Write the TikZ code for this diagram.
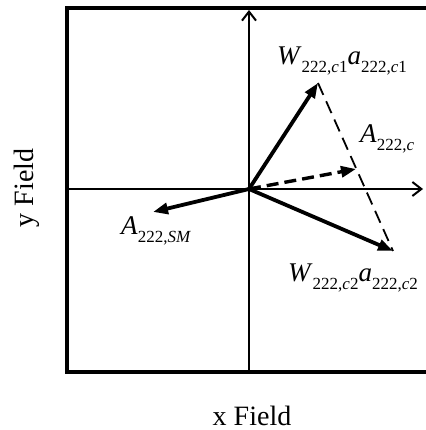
\documentclass[tikz,border=0pt]{standalone}
\usepackage{fontspec}
\setmainfont{Liberation Serif}
\usetikzlibrary{arrows.meta}
\newcommand\lsub[1]{\raisebox{-8pt}{\fontsize{17}{17}\selectfont #1}}
\tikzset{
  % frame and axes
  framebox/.style = { line width=4pt },
  axisline/.style = { line width=2pt, -{Straight Barb[length=9pt, width=14pt, line width=2pt]} },
  % field vectors
  fieldvec/.style = { line width=3.8pt, -{Triangle[length=15pt, width=11pt]} },
  sumvec/.style   = { line width=3.4pt, dash pattern=on 12pt off 6pt,
                      -{Triangle[length=15pt, width=11pt]} },
  helpline/.style = { line width=1.8pt, dash pattern=on 13pt off 7pt },
  veclabel/.style = { font=\fontsize{27}{27}\selectfont, inner sep=0, anchor=base west },
  axislabel/.style= { font=\fontsize{28}{28}\selectfont, inner sep=0, anchor=base }
}
\begin{document}
\begin{tikzpicture}[x=1pt, y=1pt]
  \useasboundingbox (0,0) rectangle (425,430);

  \coordinate (O)    at (249,241);
  \coordinate (xl)   at (67,241);
  \coordinate (xr)   at (423,241);
  \coordinate (ybot) at (249,58);
  \coordinate (ytop) at (249,420);
  \coordinate (c1)   at (318,347);
  \coordinate (c2)   at (393,179);
  \coordinate (ac)   at (356,261);
  \coordinate (sm)   at (153,218);

  \draw[framebox] (432,422) -- (67,422) -- (67,58) -- (432,58);
  \draw[axisline] (xl) -- (xr);
  \draw[axisline] (ybot) -- (ytop);

  \draw[helpline] (c1) -- (c2);
  \draw[fieldvec] (O) -- (c1);
  \draw[fieldvec] (O) -- (c2);
  \draw[fieldvec] (O) -- (sm);
  \draw[sumvec] (O) -- (ac);

  \node[veclabel] (lblc1) at (277,365) {\textit{W}\lsub{222,\textit{c}1}\textit{a}\lsub{222,\textit{c}1}};
  \node[veclabel] (lblac) at (360,287) {\textit{A}\lsub{222,\textit{c}}};
  \node[veclabel] (lblc2) at (288,148) {\textit{W}\lsub{222,\textit{c}2}\textit{a}\lsub{222,\textit{c}2}};
  \node[veclabel] (lblsm) at (121,195) {\textit{A}\lsub{222,\textit{SM}}};

  \node[axislabel] (xlbl) at (252,5) {x Field};
  \node[axislabel, rotate=90] (ylbl) at (33,242) {y Field};
\end{tikzpicture}
\end{document}
